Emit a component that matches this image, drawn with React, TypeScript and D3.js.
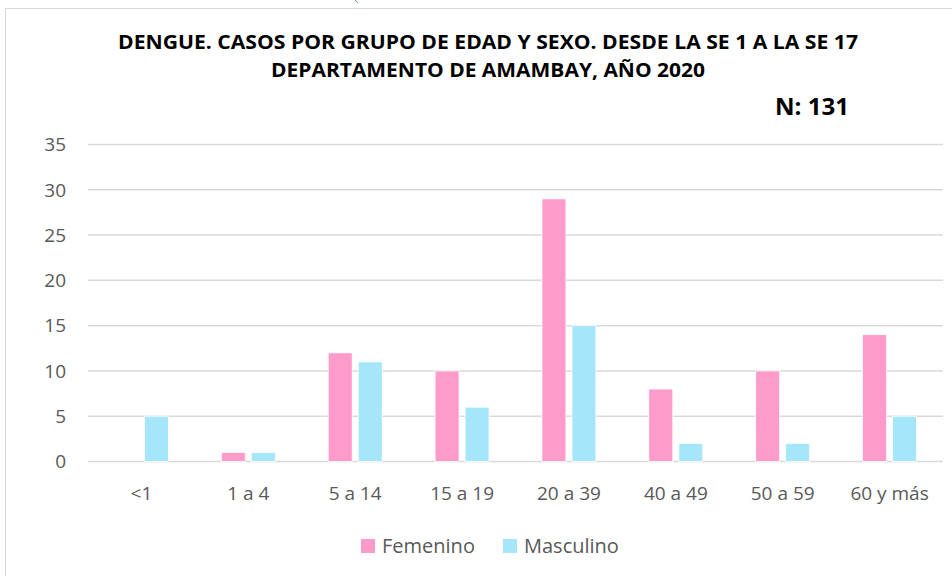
import * as d3 from 'd3'

const W = 952
const H = 576
const MARGIN = { top: 144.5, right: 9, bottom: 114.5, left: 88 }

const categories = ['<1', '1 a 4', '5 a 14', '15 a 19', '20 a 39', '40 a 49', '50 a 59', '60 y más']
const seriesNames = ['Femenino', 'Masculino']
const femenino = [0, 1, 12, 10, 29, 8, 10, 14]
const masculino = [5, 1, 11, 6, 15, 2, 2, 5]
const yTicks = [0, 5, 10, 15, 20, 25, 30, 35]
const colors = ['#FF9BCB', '#A6E6FA']

const FONT = '"Open Sans", "Noto Sans", sans-serif'

export default function App() {
  const boundsW = W - MARGIN.left - MARGIN.right
  const boundsH = H - MARGIN.top - MARGIN.bottom

  const x = d3.scaleBand().domain(categories).range([0, boundsW]).padding(0)
  const y = d3.scaleLinear().domain([0, 35]).range([boundsH, 0])
  const values = [femenino, masculino]

  // two bars of ~24px with a ~6px gap, centred in each category
  const groupW = 54
  const x1 = d3
    .scaleBand()
    .domain(seriesNames)
    .range([0, groupW])
    .paddingInner(0.2)

  return (
    <svg
      width={W}
      height={H}
      style={{ position: 'absolute', left: 0, top: 0, background: '#fff' }}
      fontFamily={FONT}
    >
      <rect x={5.5} y={8.5} width={W - 4} height={H - 8} fill="#fff" stroke="#d9d9d9" />
      <line x1={355} x2={358} y1={0} y2={3} stroke="#5b9bd5" strokeWidth={1} />

      {/* titles */}
      <text x={488} y={49} textAnchor="middle" fontWeight="bold" fontSize={19} fill="#000" textLength={740} lengthAdjust="spacingAndGlyphs">
        DENGUE. CASOS POR GRUPO DE EDAD Y SEXO. DESDE LA SE 1 A LA SE 17
      </text>
      <text x={488} y={77} textAnchor="middle" fontWeight="bold" fontSize={19} fill="#000" textLength={434} lengthAdjust="spacingAndGlyphs">
        DEPARTAMENTO DE AMAMBAY, AÑO 2020
      </text>
      <text x={775} y={115} fontWeight="bold" fontSize={23} fill="#000" textLength={74} lengthAdjust="spacingAndGlyphs">
        N: 131
      </text>

      <g transform={`translate(${MARGIN.left},${MARGIN.top})`}>
        {yTicks.map((t) => (
          <g key={t}>
            <line x1={0} x2={boundsW} y1={y(t)} y2={y(t)} stroke="#d9d9d9" strokeWidth={1.5} />
            <text x={-22} y={y(t)} dy="0.36em" textAnchor="end" fontSize={19} fill="#595959">
              {t}
            </text>
          </g>
        ))}

        {categories.map((c, i) => {
          const cx = (x(c) ?? 0) + x.bandwidth() / 2
          return (
            <g key={c} transform={`translate(${cx - groupW / 2},0)`}>
              {seriesNames.map((s, k) => {
                const v = values[k][i]
                if (v <= 0) return null
                return (
                  <rect
                    key={s}
                    x={x1(s)}
                    y={y(v)}
                    width={x1.bandwidth()}
                    height={y(0) - y(v)}
                    fill={colors[k]}
                    stroke="#fff"
                    strokeWidth={0.8}
                  />
                )
              })}
              <text x={groupW / 2} y={boundsH + 38} textAnchor="middle" fontSize={19} fill="#595959">
                {c}
              </text>
            </g>
          )
        })}
      </g>

      {/* legend */}
      <g transform="translate(361,539)">
        {seriesNames.map((s, k) => (
          <g key={s} transform={`translate(${k * 142},0)`}>
            <rect x={0} y={0} width={14} height={14} fill={colors[k]} />
            <text x={21} y={14} fontSize={20} fill="#595959">
              {s}
            </text>
          </g>
        ))}
      </g>
    </svg>
  )
}
